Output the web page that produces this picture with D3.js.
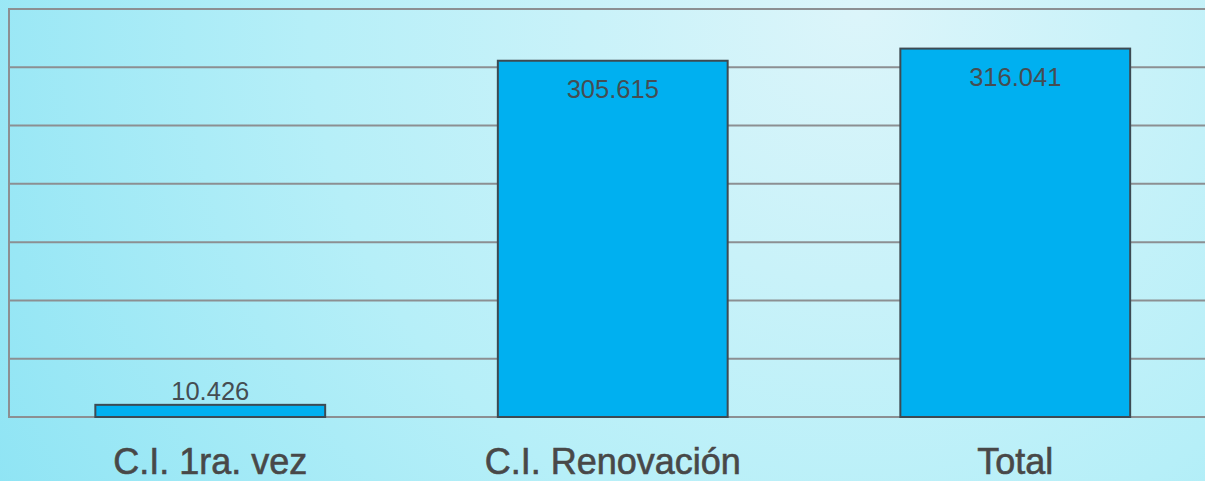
<!DOCTYPE html>
<html>
<head>
<meta charset="utf-8">
<script src="https://cdn.jsdelivr.net/npm/d3@7"></script>
<style>
html,body{margin:0;padding:0;overflow:hidden;}
svg{display:block;}
</style>
</head>
<body>
<svg id="chart" width="1205" height="481"></svg>
<script>
const categories = ["C.I. 1ra. vez", "C.I. Renovación", "Total"];
const values = [10426, 305615, 316041];
const valueLabels = ["10.426", "305.615", "316.041"];
const yTicks = [0, 50000, 100000, 150000, 200000, 250000, 300000, 350000];

const W = 1205, H = 481;
const margin = {left: 9, top: 9, bottom: 64};
const plotRight = 9 + 3 * 402.5;
const svg = d3.select("#chart");

const defs = svg.append("defs");
const grad = defs.append("radialGradient").attr("id", "bg")
  .attr("gradientUnits", "userSpaceOnUse")
  .attr("cx", 860).attr("cy", 10).attr("r", 1000);
grad.append("stop").attr("offset", "0").attr("stop-color", "#dcf5fa");
grad.append("stop").attr("offset", "0.55").attr("stop-color", "#b6eff8");
grad.append("stop").attr("offset", "1").attr("stop-color", "#8ee4f4");
svg.append("rect").attr("width", W).attr("height", H).attr("fill", "url(#bg)");

const x = d3.scaleBand().domain(categories).range([margin.left, plotRight]).paddingInner(0.429).paddingOuter(0.2145);
const y = d3.scaleLinear().domain([0, 350000]).range([H - margin.bottom, margin.top]);

// gridlines
svg.append("g").selectAll("line").data(yTicks).join("line")
  .attr("x1", margin.left).attr("x2", W + 20)
  .attr("y1", d => y(d)).attr("y2", d => y(d))
  .attr("stroke", "#8c8f92").attr("stroke-width", 2);

// left axis
svg.append("line").attr("x1", margin.left).attr("x2", margin.left)
  .attr("y1", y(350000) - 1).attr("y2", y(0) + 1)
  .attr("stroke", "#8c8f92").attr("stroke-width", 2);

// bars
svg.append("g").selectAll("rect").data(values).join("rect")
  .attr("x", (d, i) => x(categories[i]))
  .attr("y", d => y(d))
  .attr("width", x.bandwidth())
  .attr("height", d => y(0) - y(d))
  .attr("fill", "#00b0f0")
  .attr("stroke", "#3d4a52").attr("stroke-width", 2);

// value labels
svg.append("g").selectAll("text").data(values).join("text")
  .attr("x", (d, i) => x(categories[i]) + x.bandwidth() / 2)
  .attr("y", (d, i) => i === 0 ? y(d) - 5 : y(d) + 37)
  .attr("text-anchor", "middle")
  .attr("font-family", "Liberation Sans, Arial, sans-serif")
  .attr("font-size", "25.5px")
  .attr("fill", "#454d52")
  .text((d, i) => valueLabels[i]);

// category labels
svg.append("g").selectAll("text").data(categories).join("text")
  .attr("x", d => x(d) + x.bandwidth() / 2)
  .attr("y", 474)
  .attr("text-anchor", "middle")
  .attr("font-family", "Liberation Sans, Arial, sans-serif")
  .attr("font-size", "36px")
  .attr("fill", "#484848")
  .attr("stroke", "#484848").attr("stroke-width", 0.6)
  .text(d => d);
</script>
</body>
</html>
